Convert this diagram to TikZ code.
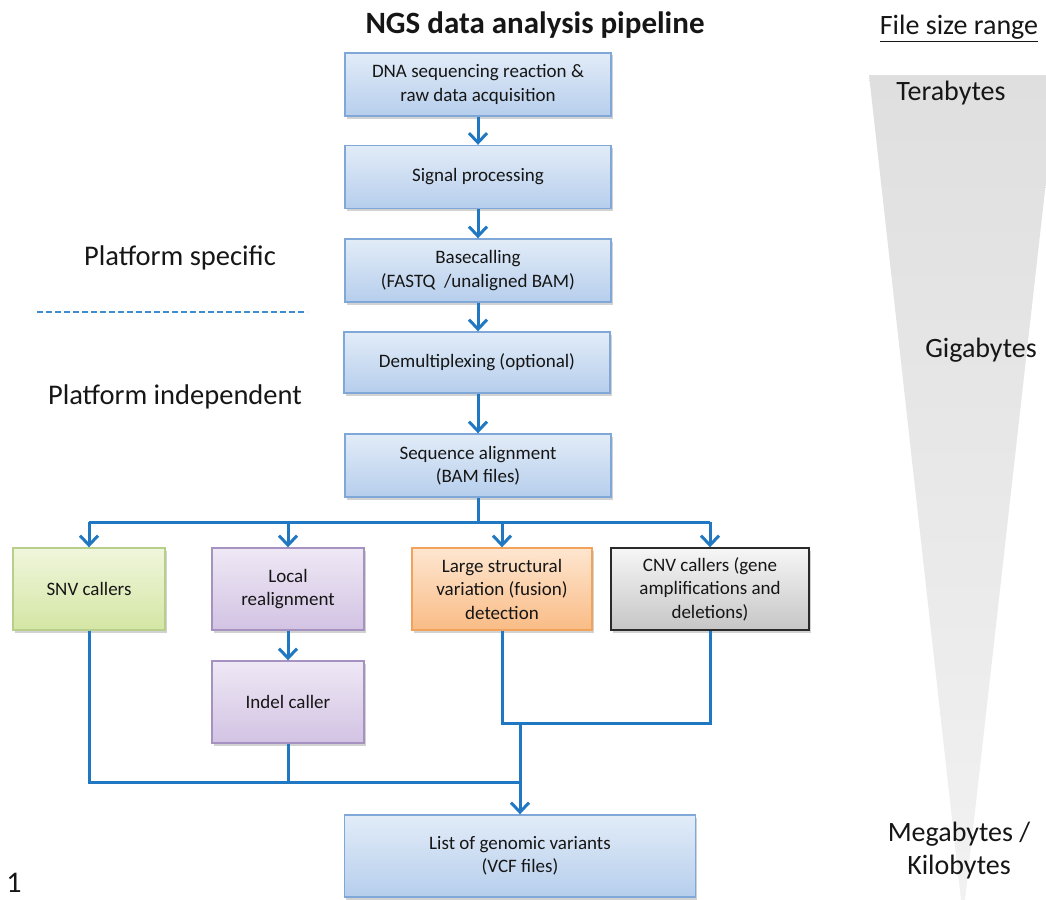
\documentclass[tikz,border=0pt]{standalone}
\usepackage{fontspec}
\setmainfont{Carlito}
\usetikzlibrary{arrows.meta,shadows}

\definecolor{inktext}{HTML}{161616}
\definecolor{flowblue}{HTML}{2178C2}
\definecolor{dashblue}{HTML}{3F8DD1}
\definecolor{bluetop}{HTML}{E2ECF8}
\definecolor{bluebot}{HTML}{B6CEEC}
\definecolor{blueedge}{HTML}{7FA7D7}
\definecolor{greentop}{HTML}{F0F6DC}
\definecolor{greenbot}{HTML}{D4E6A4}
\definecolor{greenedge}{HTML}{B7CF8A}
\definecolor{purpletop}{HTML}{EFE8F5}
\definecolor{purplebot}{HTML}{D2C3E3}
\definecolor{purpleedge}{HTML}{A592C1}
\definecolor{orangetop}{HTML}{FEE6D0}
\definecolor{orangebot}{HTML}{F9BC86}
\definecolor{orangeedge}{HTML}{F2A35B}
\definecolor{greytop}{HTML}{F6F6F6}
\definecolor{greybot}{HTML}{C6C6C6}
\definecolor{greyedge}{HTML}{2A2A2A}
\definecolor{conetop}{HTML}{DFDFDF}
\definecolor{conebot}{HTML}{F2F2F2}

\begin{document}
\begin{tikzpicture}[x=1pt,y=-1pt,
  every node/.style={text=inktext},
  flowbox/.style={draw, line width=1.4pt, inner sep=2pt, align=center,
    font=\fontsize{19}{23.5}\selectfont,
    drop shadow={shadow xshift=1.5pt, shadow yshift=-2.5pt, opacity=0.25, fill=black!70}},
  bluebox/.style={flowbox, draw=blueedge, top color=bluetop, bottom color=bluebot,
    minimum width=266pt, minimum height=63pt},
  greenbox/.style={flowbox, draw=greenedge, top color=greentop, bottom color=greenbot,
    minimum width=152pt, minimum height=82pt},
  purplebox/.style={flowbox, draw=purpleedge, top color=purpletop, bottom color=purplebot,
    minimum width=152pt, minimum height=82pt},
  orangebox/.style={flowbox, draw=orangeedge, top color=orangetop, bottom color=orangebot,
    minimum width=180pt, minimum height=82pt},
  greybox/.style={flowbox, draw=greyedge, top color=greytop, bottom color=greybot,
    minimum width=198pt, minimum height=82pt},
  link/.style={draw=flowblue, line width=3pt},
  flowarrow/.style={link, -{Straight Barb[length=9.5pt, width=18pt]}},
  sidelabel/.style={font=\fontsize{28.5}{32}\selectfont},
  sizelabel/.style={font=\fontsize{28}{32}\selectfont}
]
\useasboundingbox (0,0) rectangle (1046,899);

% file size cone
\begin{scope}
  \clip (0,0) rectangle (1046,899);
  \shade[top color=conetop, bottom color=conebot] (869,75) -- (1058,75) -- (963,918) -- cycle;
\end{scope}

% headings
\node[font=\bfseries\fontsize{31}{36}\selectfont] (title) at (535,25) {NGS data analysis pipeline};
\node[sizelabel, anchor=base] (sizehead) at (959,35) {\underline{File size range}};
\node[sizelabel, anchor=base] (tera) at (951,100) {Terabytes};
\node[sizelabel] (giga) at (981,350) {Gigabytes};
\node[sizelabel, align=center, font=\fontsize{28}{33}\selectfont] (mega) at (959,851) {Megabytes /\\Kilobytes};

% platform labels
\node[sidelabel] (pspec) at (180,258) {Platform specific};
\node[sidelabel] (pind) at (175,397) {Platform independent};
\coordinate (dashL) at (37,312);
\coordinate (dashR) at (307,312);
\draw[dashblue, line width=2pt, dash pattern=on 6pt off 3pt] (dashL) -- (dashR);
\node[font=\fontsize{30}{34}\selectfont] (fig) at (14,883) {1};

% main pipeline
\node[bluebox] (dna) at (478,84.5) {DNA sequencing reaction \&\\raw data acquisition};
\node[bluebox] (signal) at (478,177) {Signal processing};
\node[bluebox] (basecall) at (478,270.5) {Basecalling\\(FASTQ\ \ /unaligned BAM)};
\node[bluebox, minimum height=61pt] (demux) at (477,362.5) {Demultiplexing (optional)};
\node[bluebox] (align) at (478,465.5) {Sequence alignment\\(BAM files)};

% variant callers
\node[greenbox] (snv) at (89,589) {SNV callers};
\node[purplebox] (local) at (288,589) {Local\\realignment};
\node[orangebox] (large) at (502,589) {Large structural\\variation (fusion)\\detection};
\node[greybox] (cnv) at (710,589) {CNV callers (gene\\amplifications and\\deletions)};
\node[purplebox] (indel) at (288,702) {Indel caller};
\node[bluebox, minimum width=351pt, minimum height=82pt] (vcf) at (520,856) {List of genomic variants\\(VCF files)};

% pipeline arrows
\draw[flowarrow] (dna) -- (signal);
\draw[flowarrow] (signal) -- (basecall);
\draw[flowarrow] (basecall) -- (basecall.south |- demux.north);
\draw[flowarrow] (demux.south -| align.north) -- (align);

% split to the callers
\coordinate (split) at (478,522);
\draw[link] (align.south) -- (split);
\draw[link] (snv.north |- split) -- (cnv.north |- split);
\draw[flowarrow] (snv.north |- split) -- (snv.north);
\draw[flowarrow] (local.north |- split) -- (local.north);
\draw[flowarrow] (large.north |- split) -- (large.north);
\draw[flowarrow] (cnv.north |- split) -- (cnv.north);
\draw[flowarrow] (local) -- (indel);

% merge into the variant list
\coordinate (joinR) at (520,723);
\coordinate (joinB) at (520,782);
\draw[link] (large.south) -- (large.south |- joinR) -- (cnv.south |- joinR) -- (cnv.south);
\draw[link] (snv.south) -- (snv.south |- joinB) -- (joinB);
\draw[link] (indel.south) -- (indel.south |- joinB);
\draw[flowarrow] (joinR) -- (vcf.north);
\end{tikzpicture}
\end{document}
